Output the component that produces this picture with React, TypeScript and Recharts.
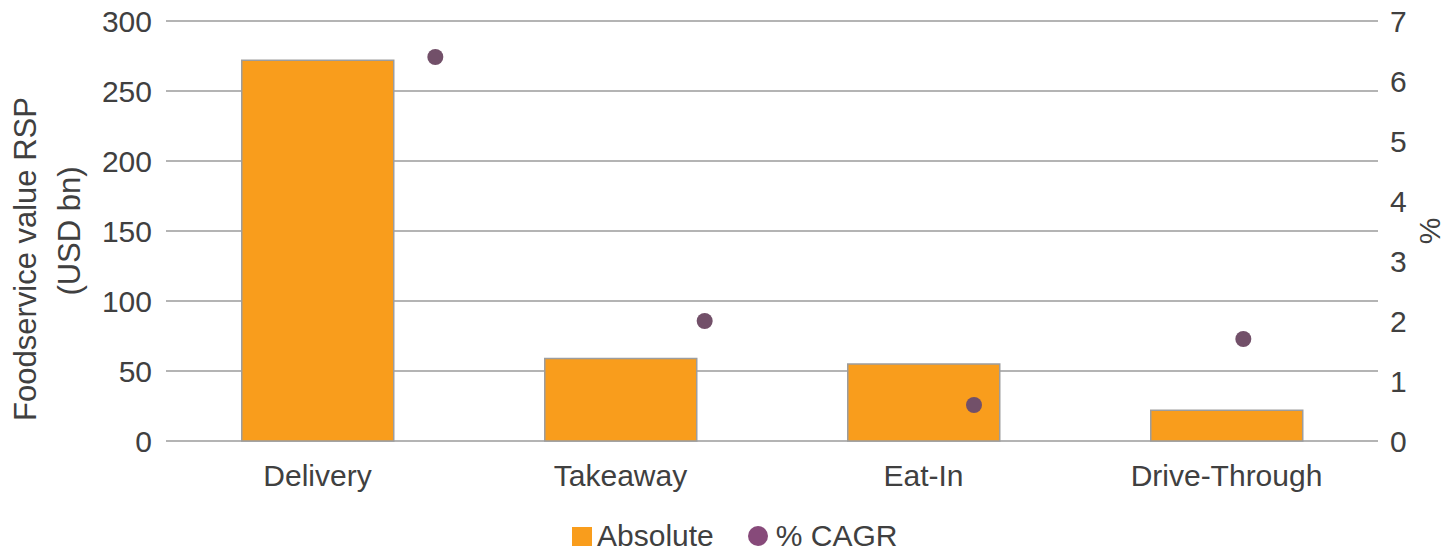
import { ComposedChart, Bar, Scatter, XAxis, YAxis, CartesianGrid, Legend } from 'recharts'

const categories = ['Delivery', 'Takeaway', 'Eat-In', 'Drive-Through']
const absoluteValues = [272, 59, 55, 22]
const cagrValues = [6.4, 2.0, 0.6, 1.7]
const leftTicks = [0, 50, 100, 150, 200, 250, 300]
const rightTicks = [0, 1, 2, 3, 4, 5, 6, 7]

const BAR_COLOR = '#F99D1C'
const DOT_COLOR = '#725069'
const TEXT_COLOR = '#404040'
const FONT = '"Liberation Sans", Arial, sans-serif'

// the dots sit on their own numeric x scale (1..4 over 0..4.5), like the Excel original
const data = categories.map((name, i) => ({
  name,
  absolute: absoluteValues[i],
  cagr: cagrValues[i],
  pos: i + 1,
}))

function LeftLabel() {
  return (
    <g fill={TEXT_COLOR} fontFamily={FONT} fontSize={31}>
      <text x={25} y={259} transform="rotate(-90 25 259)" textAnchor="middle" dominantBaseline="central">
        Foodservice value RSP
      </text>
      <text x={69} y={231} transform="rotate(-90 69 231)" textAnchor="middle" dominantBaseline="central">
        (USD bn)
      </text>
    </g>
  )
}

function RightLabel() {
  return (
    <text
      x={1429}
      y={231}
      transform="rotate(-90 1429 231)"
      textAnchor="middle"
      dominantBaseline="central"
      fill={TEXT_COLOR}
      fontFamily={FONT}
      fontSize={30}
    >
      %
    </text>
  )
}

function LegendContent() {
  return (
    <div
      style={{
        display: 'flex',
        alignItems: 'center',
        height: 30,
        paddingLeft: 572,
        fontFamily: FONT,
        fontSize: 30,
        color: TEXT_COLOR,
      }}
    >
      <span style={{ width: 20, height: 19, background: BAR_COLOR, marginRight: 5 }} />
      <span>Absolute</span>
      <span
        style={{ width: 20, height: 20, borderRadius: 10, background: '#874a7a', marginLeft: 34, marginRight: 8 }}
      />
      <span>% CAGR</span>
    </div>
  )
}

export default function App() {
  return (
    <div style={{ position: 'absolute', left: 0, top: 0, background: '#fff' }}>
      <ComposedChart
        width={1445}
        height={553}
        data={data}
        margin={{ top: 21, right: 0, left: 0, bottom: 22 }}
        barCategoryGap="25%"
      >
        <CartesianGrid
          yAxisId="left"
          xAxisId="cat"
          vertical={false}
          stroke="#b4b4b4"
          strokeWidth={2}
        />
        <XAxis
          xAxisId="cat"
          dataKey="name"
          axisLine={false}
          tickLine={false}
          height={60}
          tickMargin={18}
          tick={{ fill: TEXT_COLOR, fontSize: 30, fontFamily: FONT }}
          interval={0}
        />
        <XAxis xAxisId="num" dataKey="pos" type="number" domain={[0, 4.5]} hide />
        <YAxis
          yAxisId="left"
          width={166}
          domain={[0, 300]}
          ticks={leftTicks}
          axisLine={false}
          tickLine={false}
          tickMargin={8}
          tick={{ fill: TEXT_COLOR, fontSize: 30, fontFamily: FONT }}
          label={<LeftLabel />}
        />
        <YAxis
          yAxisId="right"
          orientation="right"
          dataKey="cagr"
          width={67}
          domain={[0, 7]}
          ticks={rightTicks}
          axisLine={false}
          tickLine={false}
          tickMargin={6}
          tick={{ fill: TEXT_COLOR, fontSize: 30, fontFamily: FONT }}
          label={<RightLabel />}
        />
        <Bar
          xAxisId="cat"
          yAxisId="left"
          dataKey="absolute"
          name="Absolute"
          fill={BAR_COLOR}
          stroke="#9d9d9d"
          strokeWidth={1.5}
          isAnimationActive={false}
        />
        <Scatter
          xAxisId="num"
          yAxisId="right"
          dataKey="cagr"
          name="% CAGR"
          fill={DOT_COLOR}
          shape={(p: any) => <circle cx={p.cx} cy={p.cy} r={8} fill={DOT_COLOR} />}
          isAnimationActive={false}
        />
        <Legend
          verticalAlign="bottom"
          content={<LegendContent />}
          wrapperStyle={{ top: 521, left: 0, width: 1445, height: 30 }}
        />
      </ComposedChart>
    </div>
  )
}
